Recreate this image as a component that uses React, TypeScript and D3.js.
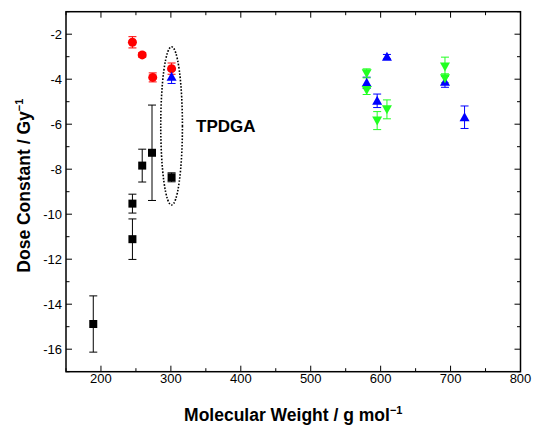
import React from "react";
import * as d3 from "d3";

// Black squares
const sqX = [189, 245, 245, 259, 273, 301];
const sqY = [-14.88, -11.11, -9.53, -7.84, -7.27, -8.36];
const sqE = [1.25, 0.9, 0.42, 0.73, 2.12, 0.2];
// Red circles
const ciX = [245, 259, 274, 301];
const ciY = [-2.36, -2.92, -3.92, -3.53];
const ciE = [0.25, 0.1, 0.2, 0.25];
// Blue triangles (up)
const upX = [301, 580, 595, 609, 692, 720];
const upY = [-3.89, -4.16, -4.96, -3.0, -4.11, -5.69];
const upE = [0.3, 0.25, 0.3, 0.1, 0.25, 0.5];
// Green triangles (down)
const dnX = [580, 580, 595, 609, 692, 692];
const dnY = [-3.74, -4.48, -5.84, -5.34, -3.44, -3.96];
const dnE = [0.2, 0.2, 0.4, 0.42, 0.42, 0.2];

const xTicks = [200, 300, 400, 500, 600, 700, 800];
const yTicks = [-2, -4, -6, -8, -10, -12, -14, -16];

// TPDGA ellipse extent (data units)
const ellX = 301;
const ellTop = -2.56;
const ellBottom = -9.59;
const ellHalfW = 15.5;

const W = 533, H = 427;
const L = 66, R = 520.5, T = 11.7, B = 371.7;

export default function App() {
  const x = d3.scaleLinear().domain([150, 800]).range([L, R]);
  const y = d3.scaleLinear().domain([-17, -1]).range([B, T]);
  const font = "Liberation Sans, Arial, sans-serif";

  const errBar = (xs: number[], ys: number[], es: number[], col: string, key: string) =>
    xs.map((xv, i) => {
      const cx = x(xv), y1 = y(ys[i] + es[i]), y2 = y(ys[i] - es[i]);
      return (
        <g key={key + i} stroke={col} strokeWidth={1}>
          <line x1={cx} x2={cx} y1={y1} y2={y2} />
          <line x1={cx - 4} x2={cx + 4} y1={y1} y2={y1} />
          <line x1={cx - 4} x2={cx + 4} y1={y2} y2={y2} />
        </g>
      );
    });

  const minorX = d3.range(150, 801, 50);
  const minorY = d3.range(-17, -0.5, 1);
  const ecy = (y(ellTop) + y(ellBottom)) / 2;
  const ery = (y(ellBottom) - y(ellTop)) / 2;
  const erx = x(ellX + ellHalfW) - x(ellX);

  return (
    <svg width={W} height={H} style={{ position: "absolute", left: 0, top: 0 }}>
      <rect width={W} height={H} fill="#fff" />
      {minorX.map((v) => {
        const major = v % 100 === 0;
        const len = major ? 6 : 3.5;
        return (
          <g key={"xt" + v} stroke="#000" strokeWidth={1}>
            <line x1={x(v)} x2={x(v)} y1={B} y2={B - len} />
            <line x1={x(v)} x2={x(v)} y1={T} y2={T + len} />
          </g>
        );
      })}
      {minorY.map((v) => {
        const major = v % 2 === 0;
        const len = major ? 6 : 3.5;
        return (
          <g key={"yt" + v} stroke="#000" strokeWidth={1}>
            <line x1={L} x2={L + len} y1={y(v)} y2={y(v)} />
            <line x1={R} x2={R - len} y1={y(v)} y2={y(v)} />
          </g>
        );
      })}
      <rect x={L} y={T} width={R - L} height={B - T} fill="none" stroke="#000" strokeWidth={1.5} />
      {xTicks.map((v) => (
        <text key={"xl" + v} x={x(v)} y={383} textAnchor="middle" fontFamily={font} fontSize={13}>
          {v}
        </text>
      ))}
      {yTicks.map((v) => (
        <text key={"yl" + v} x={62} y={y(v) + 4.5} textAnchor="end" fontFamily={font} fontSize={13}>
          {v}
        </text>
      ))}
      <text x={(L + R) / 2} y={421} textAnchor="middle" fontFamily={font} fontSize={17.5} fontWeight="bold">
        Molecular Weight / g mol
        <tspan dy={-7} fontSize={11}>−1</tspan>
      </text>
      <text
        transform={`translate(30, ${(T + B) / 2 - 6}) rotate(-90)`}
        textAnchor="middle"
        fontFamily={font}
        fontSize={17.5}
        fontWeight="bold"
      >
        Dose Constant / Gy
        <tspan dy={-7} fontSize={11}>−1</tspan>
      </text>
      <ellipse cx={x(ellX)} cy={ecy} rx={erx} ry={ery} fill="none" stroke="#000" strokeWidth={1.6} strokeDasharray="1.6 1.6" />
      <text x={196} y={131.5} fontFamily={font} fontSize={17} fontWeight="bold">TPDGA</text>
      {errBar(sqX, sqY, sqE, "#000", "se")}
      {errBar(ciX, ciY, ciE, "#f00", "ce")}
      {errBar(upX, upY, upE, "#00f", "ue")}
      {errBar(dnX, dnY, dnE, "#2f2", "de")}
      {sqX.map((v, i) => (
        <rect key={"s" + i} x={x(v) - 4} y={y(sqY[i]) - 4} width={8} height={8} fill="#000" />
      ))}
      {ciX.map((v, i) => (
        <circle key={"c" + i} cx={x(v)} cy={y(ciY[i])} r={4.5} fill="#f00" />
      ))}
      {upX.map((v, i) => {
        const cx = x(v), cy = y(upY[i]);
        return <path key={"u" + i} d={`M${cx},${cy - 5}L${cx + 5},${cy + 4}L${cx - 5},${cy + 4}Z`} fill="#00f" />;
      })}
      {dnX.map((v, i) => {
        const cx = x(v), cy = y(dnY[i]);
        return <path key={"d" + i} d={`M${cx},${cy + 5}L${cx + 5},${cy - 4}L${cx - 5},${cy - 4}Z`} fill="#2f2" />;
      })}
    </svg>
  );
}
